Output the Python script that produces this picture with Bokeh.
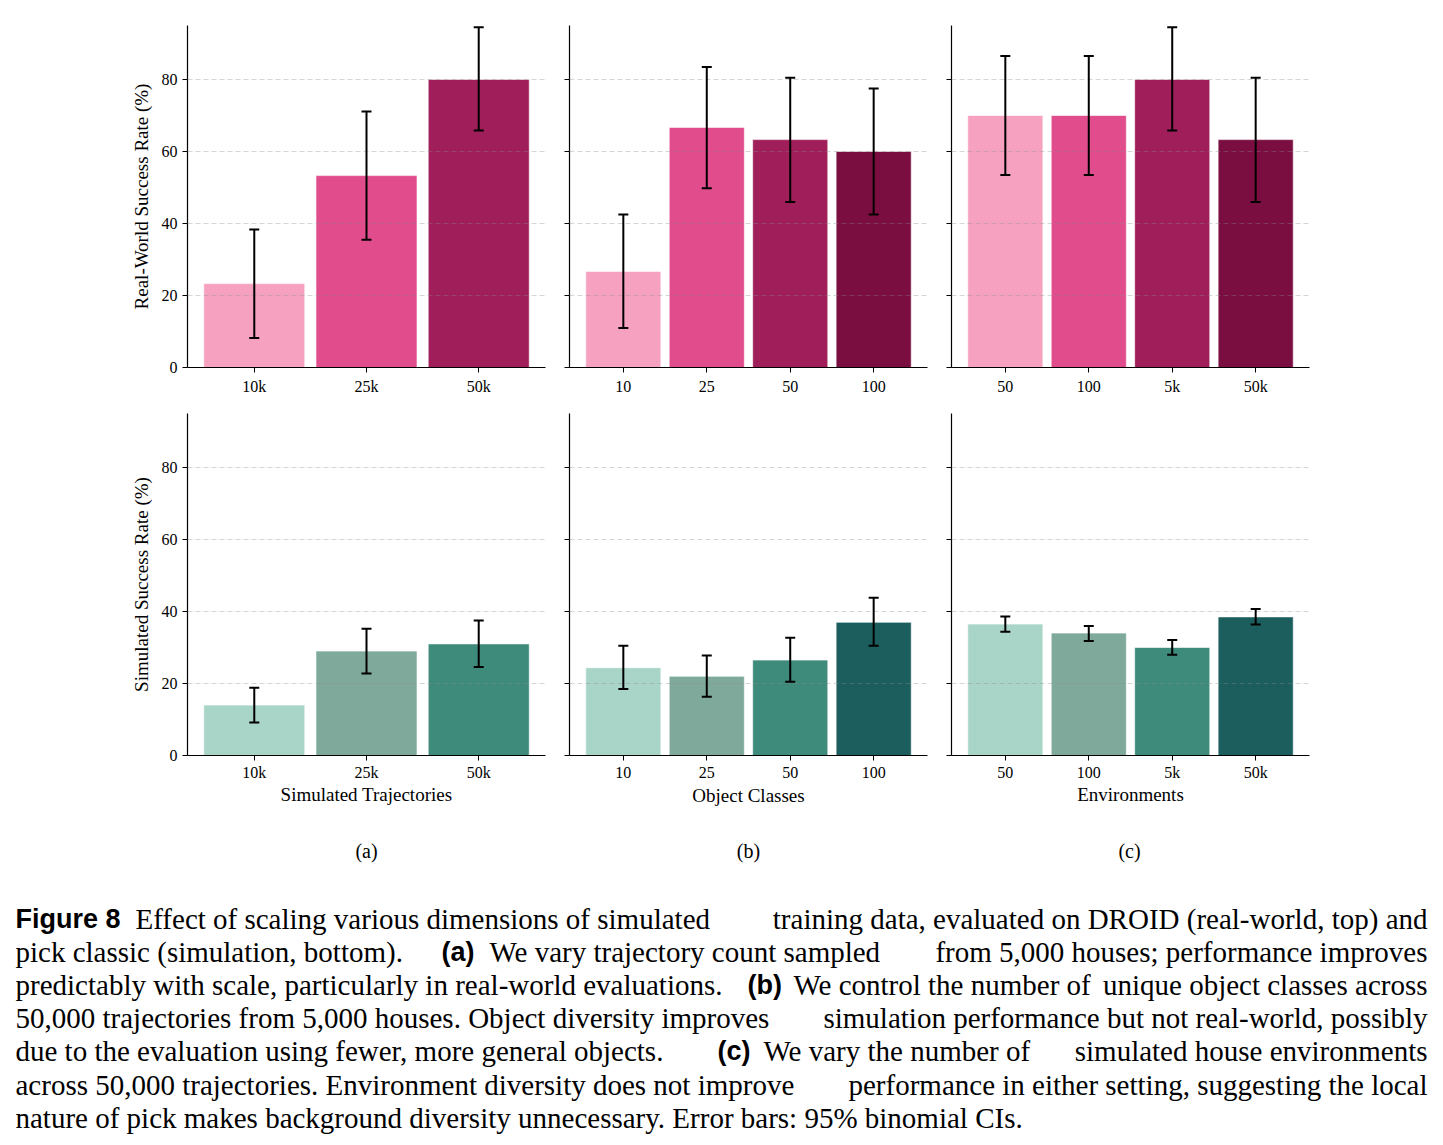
from bokeh.plotting import figure
from bokeh.models import Range1d, FixedTicker, Whisker, ColumnDataSource, TeeHead
from bokeh.layouts import column, row
from bokeh.core.properties import value
from bokeh.embed import file_html
from bokeh.resources import INLINE

SERIF = "Liberation Serif"
SANS = "Liberation Sans"

# ---------------- data ----------------
traj_labels = ["10k", "25k", "50k"]
obj_labels = ["10", "25", "50", "100"]
env_labels = ["50", "100", "5k", "50k"]

real_traj = [23.3, 53.3, 80.0]
real_traj_lo = [8.2, 35.5, 65.8]
real_traj_hi = [38.3, 71.1, 94.5]

real_obj = [26.7, 66.7, 63.3, 60.0]
real_obj_lo = [11.0, 49.8, 46.0, 42.5]
real_obj_hi = [42.5, 83.5, 80.5, 77.5]

real_env = [70.0, 70.0, 80.0, 63.3]
real_env_lo = [53.5, 53.5, 65.8, 46.0]
real_env_hi = [86.5, 86.5, 94.5, 80.5]

sim_traj = [14.0, 29.0, 31.0]
sim_traj_lo = [9.2, 22.8, 24.6]
sim_traj_hi = [18.8, 35.2, 37.5]

sim_obj = [24.4, 22.0, 26.5, 37.0]
sim_obj_lo = [18.5, 16.3, 20.5, 30.5]
sim_obj_hi = [30.5, 27.8, 32.7, 43.8]

sim_env = [36.5, 34.0, 30.0, 38.5]
sim_env_lo = [34.4, 31.8, 28.0, 36.4]
sim_env_hi = [38.6, 36.0, 32.1, 40.7]

pink = ["#f7a1c0", "#e04c8c", "#a01e59", "#7b0e40"]
green = ["#a9d5c8", "#7ea99b", "#3e8a7b", "#1b5e5d"]

y_ticks = [0, 20, 40, 60, 80]

x_titles = ["Simulated Trajectories", "Object Classes", "Environments"]
y_title_real = "Real-World Success Rate (%)"
y_title_sim = "Simulated Success Rate (%)"
sub_captions = ["(a)", "(b)", "(c)"]

FRAME_W = 358
FRAME_H = 342


def panel(labels, vals, lo, hi, colors, bl, br, bt, bb, show_ylab, ylabel=None, xlabel=None,
          tick_standoff=5, label_standoff=3):
    n = len(labels)
    xs = list(range(n))
    pad = 0.05 * (n - 0.1)
    p = figure(width=bl + FRAME_W + br, height=bt + FRAME_H + bb,
               output_backend="svg", toolbar_location=None,
               x_range=Range1d(-0.45 - pad, n - 1 + 0.45 + pad),
               y_range=Range1d(0, 95),
               min_border_left=bl, min_border_right=br,
               min_border_top=bt, min_border_bottom=bb)
    p.outline_line_color = None
    p.background_fill_color = "white"
    p.border_fill_color = "white"
    src = ColumnDataSource(dict(x=xs, top=vals, lo=lo, hi=hi, color=colors[:n]))
    p.vbar(x="x", top="top", width=0.9, source=src, fill_color="color",
           line_color="white", line_width=0.6)

    p.xaxis.ticker = FixedTicker(ticks=xs)
    p.xaxis.major_label_overrides = {i: lab for i, lab in zip(xs, labels)}
    p.yaxis.ticker = FixedTicker(ticks=y_ticks)
    if not show_ylab:
        p.yaxis.major_label_overrides = {t: "" for t in y_ticks}
    for ax in (p.xaxis[0], p.yaxis[0]):
        ax.axis_line_color = "black"
        ax.axis_line_width = 1.2
        ax.major_tick_line_color = "black"
        ax.major_tick_line_width = 1
        ax.major_tick_out = 5
        ax.major_tick_in = 0
        ax.minor_tick_line_color = None
        ax.major_label_text_font = SERIF
        ax.major_label_text_font_size = "16px"
        ax.major_label_text_color = "black"
        ax.axis_label_text_font = SERIF
        ax.axis_label_text_font_size = "19px"
        ax.axis_label_text_font_style = "normal"
        ax.axis_label_text_color = "black"
    p.xaxis.major_label_standoff = tick_standoff
    p.yaxis.major_label_standoff = 5 if show_ylab else 0
    if ylabel:
        p.yaxis.axis_label = ylabel
        p.yaxis.axis_label_standoff = 7
    if xlabel:
        p.xaxis.axis_label = xlabel
        p.xaxis.axis_label_standoff = label_standoff
    p.xgrid.visible = False
    p.ygrid.grid_line_color = "#8a8a8a"
    p.ygrid.grid_line_alpha = 0.35
    p.ygrid.grid_line_dash = "5 3"
    p.ygrid.grid_line_width = 1
    p.ygrid.level = "overlay"

    w = Whisker(base="x", lower="lo", upper="hi", source=src, level="overlay",
                line_color="black", line_width=2,
                upper_head=TeeHead(size=10, line_color="black", line_width=2),
                lower_head=TeeHead(size=10, line_color="black", line_width=2))
    p.add_layout(w)
    return p


# top row: frames at x 187, 569, 951 ; y 25..367
a1 = panel(traj_labels, real_traj, real_traj_lo, real_traj_hi, pink, 187, 12, 25, 33, True, y_title_real)
b1 = panel(obj_labels, real_obj, real_obj_lo, real_obj_hi, pink, 12, 12, 25, 33, False, tick_standoff=8)
c1 = panel(env_labels, real_env, real_env_lo, real_env_hi, pink, 12, 134, 25, 33, False)

# bottom row: frames y 413..755
a2 = panel(traj_labels, sim_traj, sim_traj_lo, sim_traj_hi, green, 187, 12, 13, 75, True, y_title_sim,
           x_titles[0], tick_standoff=3, label_standoff=0)
b2 = panel(obj_labels, sim_obj, sim_obj_lo, sim_obj_hi, green, 12, 12, 13, 75, False, None, x_titles[1],
           tick_standoff=6, label_standoff=4)
c2 = panel(env_labels, sim_env, sim_env_lo, sim_env_hi, green, 12, 134, 13, 75, False, None,
           x_titles[2], tick_standoff=3, label_standoff=0)

# caption area
cap = figure(width=1443, height=315, output_backend="svg", toolbar_location=None,
             x_range=Range1d(0, 1443), y_range=Range1d(315, 0),
             min_border=0)
cap.xaxis.visible = False
cap.yaxis.visible = False
cap.xgrid.visible = False
cap.ygrid.visible = False
cap.outline_line_color = None

cap.text(x=[366, 748, 1129], y=[20, 20, 20], text=sub_captions,
         text_font=value(SERIF), text_font_size="20px", text_align="center",
         text_baseline="middle", text_color="black")

# paragraph segments
line_y = [88, 121, 154, 187, 220, 254, 287]
seg_text = [
    "Figure 8",
    "Effect of scaling various dimensions of simulated",
    "training data, evaluated on DROID (real-world, top) and",
    "pick classic (simulation, bottom).",
    "(a)",
    "We vary trajectory count sampled",
    "from 5,000 houses; performance improves",
    "predictably with scale, particularly in real-world evaluations.",
    "(b)",
    "We control the number of",
    "unique object classes across",
    "50,000 trajectories from 5,000 houses. Object diversity improves",
    "simulation performance but not real-world, possibly",
    "due to the evaluation using fewer, more general objects.",
    "(c)",
    "We vary the number of",
    "simulated house environments",
    "across 50,000 trajectories. Environment diversity does not improve",
    "performance in either setting, suggesting the local",
    "nature of pick makes background diversity unnecessary. Error bars: 95% binomial CIs.",
]
seg_line = [0, 0, 0, 1, 1, 1, 1, 2, 2, 2, 2, 3, 3, 4, 4, 4, 4, 5, 5, 6]
seg_x = [15, 135, 1427, 15, 441, 489, 1427, 15, 747, 793, 1427, 15, 1427, 15, 717, 763, 1427, 15, 1427, 15]
seg_bold = [True, False, False, False, True, False, False, False, True, False, False,
            False, False, False, True, False, False, False, False, False]

for t, li, x, b in zip(seg_text, seg_line, seg_x, seg_bold):
    al = "right" if x > 1400 else "left"
    if b:
        cap.text(x=[x], y=[line_y[li]], text=[t], text_font=value(SANS), text_font_style="bold",
                 text_font_size="27px", text_align=al, text_baseline="middle", text_color="black")
    else:
        cap.text(x=[x], y=[line_y[li]], text=[t], text_font=value(SERIF),
                 text_font_size="29px", text_align=al, text_baseline="middle", text_color="black")

layout = column(row(a1, b1, c1), row(a2, b2, c2), cap)
open("out.html", "w").write(file_html(layout, INLINE))
